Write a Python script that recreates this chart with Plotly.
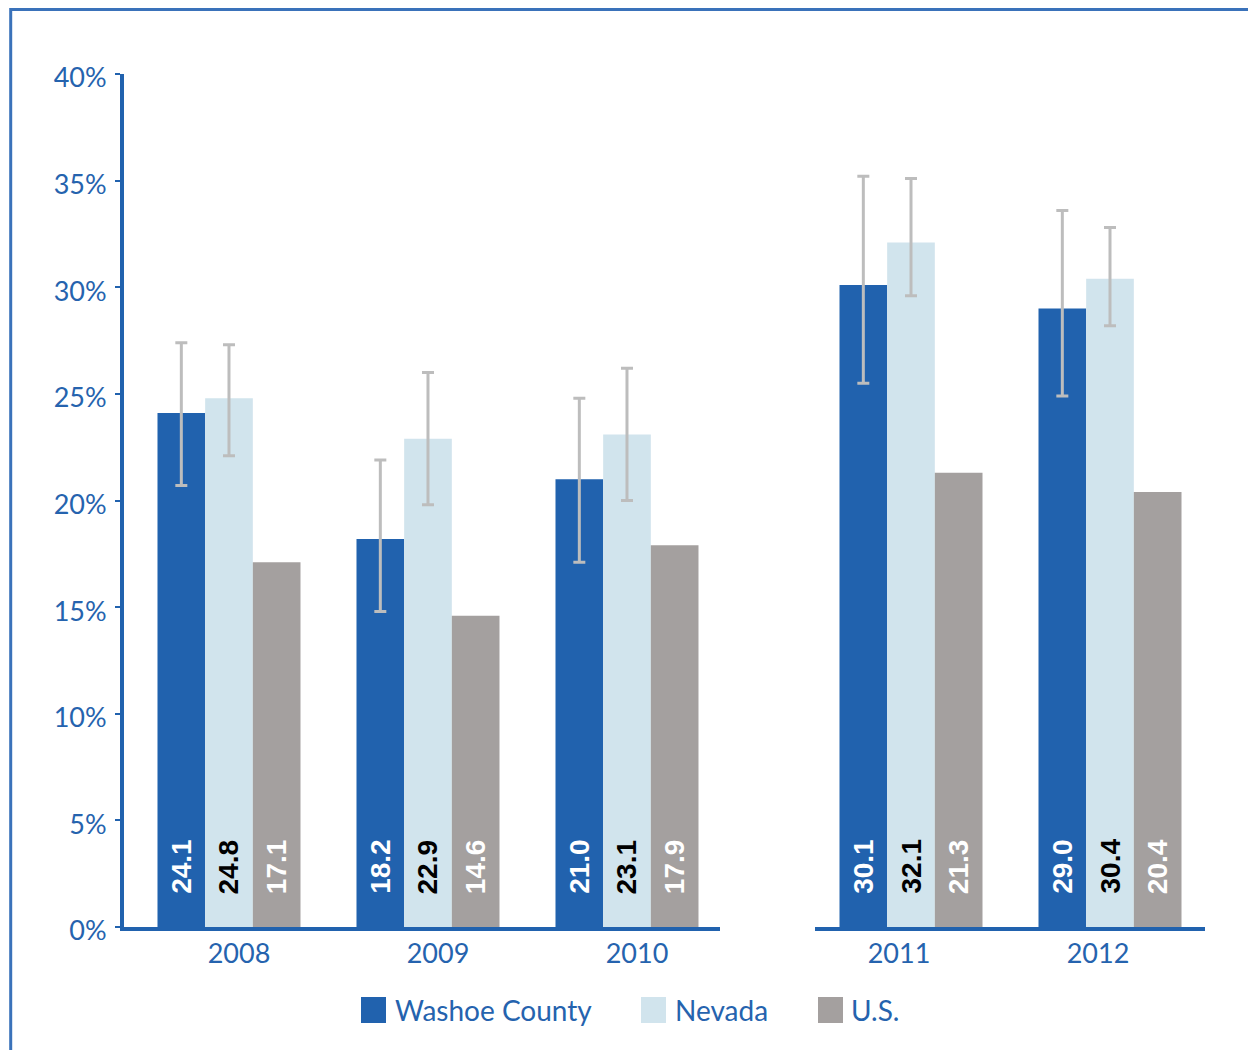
import plotly.graph_objects as go

# ---------------- data ----------------
years = ["2008", "2009", "2010", "2011", "2012"]
series_names = ["Washoe County", "Nevada", "U.S."]
washoe = [24.1, 18.2, 21.0, 30.1, 29.0]
nevada = [24.8, 22.9, 23.1, 32.1, 30.4]
us = [17.1, 14.6, 17.9, 21.3, 20.4]
washoe_ci_low = [20.7, 14.8, 17.1, 25.5, 24.9]
washoe_ci_high = [27.4, 21.9, 24.8, 35.2, 33.6]
nevada_ci_low = [22.1, 19.8, 20.0, 29.6, 28.2]
nevada_ci_high = [27.3, 26.0, 26.2, 35.1, 32.8]
y_tickvals = [0, 5, 10, 15, 20, 25, 30, 35, 40]
y_ticktext = ["0%", "5%", "10%", "15%", "20%", "25%", "30%", "35%", "40%"]

# ---------------- style ----------------
BLUE = "#2162AE"
LIGHT = "#D1E4ED"
GRAY = "#A4A09F"
ERR = "#BDBDBD"
TXT = "#2563AE"
colors = [BLUE, LIGHT, GRAY]
label_colors = ["white", "black", "white"]

W, H = 1248, 1050
L, R, T, B = 124, 43, 74, 123
PW, PH = W - L - R, H - T - B


def px_x(p):
    return (p - L) / PW


def px_y(p):
    return (H - B - p) / PH


split = 3
groups = [(years[:split], slice(0, split), "x", "y"), (years[split:], slice(split, None), "x2", "y")]

bargap = 0.2814
fig = go.Figure()

values = [washoe, nevada, us]
ci = [(washoe_ci_low, washoe_ci_high), (nevada_ci_low, nevada_ci_high), None]

for cats, sl, xa, ya in groups:
    for i, (name, vals) in enumerate(zip(series_names, values)):
        v = vals[sl]
        err = None
        if ci[i] is not None:
            lo, hi = ci[i][0][sl], ci[i][1][sl]
            err = dict(type="data", symmetric=False,
                       array=[h - a for h, a in zip(hi, v)],
                       arrayminus=[a - l for l, a in zip(lo, v)],
                       color=ERR, thickness=3, width=6)
        fig.add_trace(go.Bar(x=cats, y=v, name=name, marker=dict(color=colors[i], line=dict(width=0)),
                             error_y=err, xaxis=xa, yaxis=ya, showlegend=False))

# axis ranges (category units)
x1_dom = [px_x(124), px_x(720)]
x2_dom = [px_x(815), px_x(1205)]
x1_range = [-0.5276, -0.5276 + (720 - 124) / 199]
x2_range = [-0.4824, -0.4824 + (1205 - 815) / 199]
bar_frac = (1 - bargap) / 3  # bar width in category units

annotations = []
for cats, sl, xa, ya in groups:
    for i, vals in enumerate(values):
        for k, v in enumerate(vals[sl]):
            annotations.append(dict(
                x=k + (i - 1) * bar_frac, y=0, xref=xa, yref="y", text="<b>%.1f</b>" % v,
                showarrow=False, textangle=-90, xanchor="center", yanchor="bottom", yshift=31,
                font=dict(family="Liberation Sans, Arial", size=28, color=label_colors[i])))

# legend (manual, large keys)
legend_keys = [(361, 393), (641, 673), (818, 849)]
shapes = []
for (kx, tx), name, col in zip(legend_keys, series_names, colors):
    shapes.append(dict(type="rect", xref="paper", yref="paper",
                       x0=px_x(kx), x1=px_x(kx + 25), y0=px_y(1023), y1=px_y(997),
                       fillcolor=col, line=dict(width=0)))
    annotations.append(dict(x=px_x(tx), y=px_y(1010), xref="paper", yref="paper", text=name,
                            showarrow=False, xanchor="left", yanchor="middle",
                            font=dict(family="Lato", size=28, color=TXT)))

# outer frame
shapes.append(dict(type="rect", xref="paper", yref="paper",
                   x0=px_x(10.7), x1=px_x(W + 20), y0=px_y(H + 20), y1=px_y(9.5),
                   line=dict(color="#3A72BA", width=3), fillcolor="rgba(0,0,0,0)", layer="above"))

tickfont = dict(family="Lato", size=27, color=TXT)
fig.update_layout(
    width=W, height=H, margin=dict(l=L, r=R, t=T, b=B, pad=0),
    paper_bgcolor="white", plot_bgcolor="white",
    barmode="group", bargap=bargap, bargroupgap=0,
    showlegend=False,
    xaxis=dict(domain=x1_dom, range=x1_range, type="category", anchor="y",
               showline=True, linecolor=BLUE, linewidth=4, showgrid=False, ticks="",
               tickfont=tickfont, ticklabelstandoff=0, ticklabelshift=10),
    xaxis2=dict(domain=x2_dom, range=x2_range, type="category", anchor="y",
                showline=True, linecolor=BLUE, linewidth=4, showgrid=False, ticks="",
                tickfont=tickfont, ticklabelstandoff=0, ticklabelshift=-12),
    yaxis=dict(range=[0, 40], tickvals=y_tickvals, ticktext=y_ticktext,
               showline=True, linecolor=BLUE, linewidth=4, showgrid=False, zeroline=False,
               ticks="outside", ticklen=5, tickwidth=1.5, tickcolor=BLUE, tickfont=tickfont,
               ticklabelstandoff=3, ticklabelshift=4),
    annotations=annotations, shapes=shapes,
)

fig.write_html("out.html", config={"displayModeBar": False},
               post_script="document.body.style.margin='0';document.body.style.overflow='hidden';")
